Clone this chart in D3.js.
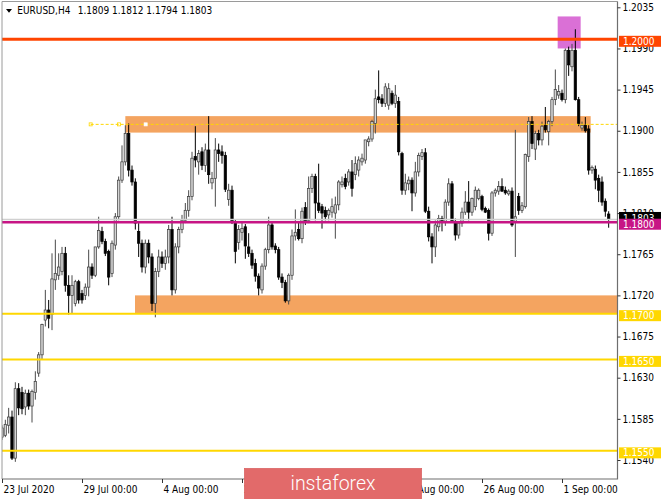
<!DOCTYPE html>
<html>
<head>
<meta charset="utf-8">
<script src="https://cdn.jsdelivr.net/npm/d3@7"></script>
<style>
  body { margin: 0; background: #fff; }
  svg text { font-family: "DejaVu Sans Condensed", "DejaVu Sans", sans-serif; font-stretch: condensed; font-size: 10px; fill: #000; }
</style>
</head>
<body>
<div id="chart"></div>
<script>
"use strict";

// Chart data
// ----------

var symbol = "EURUSD,H4";

var tradingDays = ["2020-07-23","2020-07-24","2020-07-27","2020-07-28","2020-07-29","2020-07-30","2020-07-31",
  "2020-08-03","2020-08-04","2020-08-05","2020-08-06","2020-08-07","2020-08-10","2020-08-11","2020-08-12",
  "2020-08-13","2020-08-14","2020-08-17","2020-08-18","2020-08-19","2020-08-20","2020-08-21","2020-08-24",
  "2020-08-25","2020-08-26","2020-08-27","2020-08-28","2020-08-31","2020-09-01","2020-09-02","2020-09-03"];
var barHours = [0, 4, 8, 12, 16, 20];

var barOpen = [
  1.1565,1.1567,1.1578,1.1587,1.1542,1.1618,1.1614,1.1598,1.1613,1.1599,
  1.1614,1.1635,1.1655,1.1693,1.1704,1.1699,1.1737,1.1742,1.1746,1.1766,
  1.1731,1.1720,1.1711,1.1735,1.1722,1.1720,1.1729,1.1751,1.1742,1.1773,
  1.1790,1.1779,1.1768,1.1744,1.1775,1.1806,1.1846,1.1866,1.1897,1.1857,
  1.1844,1.1790,1.1777,1.1751,1.1777,1.1762,1.1711,1.1746,1.1762,1.1755,
  1.1762,1.1792,1.1726,1.1773,1.1792,1.1802,1.1813,1.1828,1.1872,1.1866,
  1.1877,1.1862,1.1879,1.1843,1.1848,1.1879,1.1877,1.1873,1.1825,1.1835,
  1.1800,1.1778,1.1789,1.1795,1.1773,1.1766,1.1755,1.1741,1.1726,1.1752,
  1.1770,1.1797,1.1774,1.1770,1.1740,1.1734,1.1714,1.1742,1.1785,1.1792,
  1.1782,1.1816,1.1802,1.1837,1.1850,1.1821,1.1817,1.1813,1.1808,1.1811,
  1.1810,1.1819,1.1841,1.1848,1.1844,1.1855,1.1852,1.1857,1.1866,1.1868,
  1.1888,1.1891,1.1908,1.1937,1.1935,1.1930,1.1928,1.1941,1.1930,1.1932,
  1.1875,1.1835,1.1842,1.1846,1.1832,1.1855,1.1872,1.1876,1.1812,1.1784,
  1.1773,1.1795,1.1804,1.1800,1.1822,1.1842,1.1801,1.1786,1.1799,1.1811,
  1.1822,1.1811,1.1817,1.1826,1.1828,1.1815,1.1813,1.1788,1.1832,1.1834,
  1.1839,1.1835,1.1831,1.1834,1.1800,1.1828,1.1813,1.1817,1.1872,1.1910,
  1.1880,1.1897,1.1890,1.1906,1.1899,1.1910,1.1934,1.1939,1.1941,1.1934,
  1.1988,1.1970,1.1988,1.1934,1.1903,1.1906,1.1902,1.1857,1.1858,1.1848,
  1.1844,1.1823,1.1809];

var barHigh = [
  1.1578,1.1584,1.1597,1.1594,1.1625,1.1624,1.1620,1.1617,1.1617,1.1617,
  1.1637,1.1658,1.1689,1.1726,1.1715,1.1766,1.1781,1.1766,1.1773,1.1773,
  1.1742,1.1742,1.1737,1.1737,1.1726,1.1733,1.1770,1.1755,1.1773,1.1806,
  1.1795,1.1782,1.1770,1.1780,1.1810,1.1850,1.1884,1.1906,1.1908,1.1862,
  1.1848,1.1799,1.1781,1.1781,1.1781,1.1766,1.1750,1.1770,1.1768,1.1770,
  1.1797,1.1806,1.1777,1.1795,1.1808,1.1821,1.1835,1.1877,1.1905,1.1879,
  1.1882,1.1886,1.1916,1.1855,1.1892,1.1886,1.1884,1.1877,1.1842,1.1840,
  1.1803,1.1797,1.1800,1.1798,1.1788,1.1770,1.1760,1.1744,1.1755,1.1772,
  1.1806,1.1800,1.1777,1.1773,1.1744,1.1737,1.1744,1.1792,1.1814,1.1800,
  1.1816,1.1822,1.1850,1.1853,1.1853,1.1864,1.1820,1.1817,1.1815,1.1826,
  1.1828,1.1846,1.1850,1.1853,1.1858,1.1868,1.1872,1.1872,1.1875,1.1890,
  1.1894,1.1912,1.1945,1.1966,1.1940,1.1952,1.1952,1.1944,1.1950,1.1937,
  1.1877,1.1853,1.1850,1.1849,1.1866,1.1876,1.1880,1.1881,1.1817,1.1788,
  1.1802,1.1808,1.1807,1.1825,1.1848,1.1845,1.1804,1.1801,1.1816,1.1834,
  1.1845,1.1827,1.1839,1.1837,1.1830,1.1817,1.1815,1.1834,1.1837,1.1845,
  1.1848,1.1839,1.1836,1.1838,1.1901,1.1832,1.1822,1.1875,1.1915,1.1916,
  1.1900,1.1901,1.1910,1.1926,1.1912,1.1937,1.1967,1.1950,1.1945,1.1990,
  1.1992,1.1995,1.2011,1.1937,1.1910,1.1915,1.1906,1.1862,1.1862,1.1852,
  1.1850,1.1826,1.1812];

var barLow = [
  1.1562,1.1565,1.1569,1.1540,1.1538,1.1589,1.1590,1.1589,1.1595,1.1581,
  1.1606,1.1631,1.1650,1.1686,1.1684,1.1682,1.1726,1.1737,1.1742,1.1724,
  1.1699,1.1700,1.1708,1.1711,1.1711,1.1715,1.1719,1.1738,1.1740,1.1771,
  1.1776,1.1763,1.1731,1.1740,1.1770,1.1802,1.1843,1.1862,1.1850,1.1840,
  1.1792,1.1762,1.1745,1.1744,1.1755,1.1703,1.1696,1.1740,1.1750,1.1748,
  1.1755,1.1720,1.1722,1.1766,1.1788,1.1799,1.1806,1.1824,1.1860,1.1852,
  1.1857,1.1855,1.1842,1.1836,1.1817,1.1866,1.1864,1.1833,1.1818,1.1798,
  1.1755,1.1770,1.1780,1.1760,1.1762,1.1749,1.1735,1.1720,1.1722,1.1748,
  1.1766,1.1770,1.1766,1.1737,1.1728,1.1712,1.1710,1.1737,1.1780,1.1780,
  1.1777,1.1797,1.1799,1.1832,1.1802,1.1810,1.1793,1.1802,1.1802,1.1805,
  1.1782,1.1813,1.1838,1.1836,1.1840,1.1828,1.1846,1.1850,1.1862,1.1864,
  1.1883,1.1888,1.1897,1.1930,1.1926,1.1926,1.1923,1.1928,1.1925,1.1873,
  1.1830,1.1830,1.1835,1.1812,1.1828,1.1850,1.1868,1.1810,1.1779,1.1755,
  1.1762,1.1790,1.1790,1.1796,1.1818,1.1800,1.1780,1.1782,1.1795,1.1808,
  1.1802,1.1807,1.1813,1.1824,1.1812,1.1810,1.1780,1.1785,1.1828,1.1830,
  1.1833,1.1830,1.1829,1.1795,1.1762,1.1808,1.1810,1.1815,1.1866,1.1880,
  1.1868,1.1884,1.1884,1.1898,1.1884,1.1905,1.1928,1.1935,1.1932,1.1930,
  1.1960,1.1965,1.1933,1.1905,1.1900,1.1898,1.1852,1.1853,1.1836,1.1822,
  1.1818,1.1806,1.1794];

var barClose = [
  1.1575,1.1579,1.1587,1.1542,1.1618,1.1597,1.1596,1.1613,1.1599,1.1615,
  1.1626,1.1655,1.1688,1.1704,1.1695,1.1738,1.1744,1.1751,1.1766,1.1731,
  1.1720,1.1731,1.1735,1.1715,1.1715,1.1729,1.1751,1.1742,1.1773,1.1791,
  1.1779,1.1766,1.1740,1.1777,1.1806,1.1846,1.1866,1.1897,1.1857,1.1844,
  1.1799,1.1777,1.1751,1.1777,1.1762,1.1711,1.1746,1.1762,1.1755,1.1762,
  1.1792,1.1726,1.1773,1.1792,1.1802,1.1813,1.1828,1.1870,1.1868,1.1875,
  1.1862,1.1879,1.1852,1.1848,1.1879,1.1875,1.1873,1.1836,1.1835,1.1800,
  1.1768,1.1792,1.1793,1.1774,1.1766,1.1753,1.1741,1.1728,1.1752,1.1770,
  1.1797,1.1773,1.1770,1.1740,1.1734,1.1714,1.1742,1.1785,1.1789,1.1782,
  1.1812,1.1801,1.1837,1.1850,1.1821,1.1813,1.1810,1.1806,1.1813,1.1817,
  1.1819,1.1844,1.1844,1.1839,1.1855,1.1837,1.1864,1.1868,1.1870,1.1890,
  1.1891,1.1910,1.1935,1.1934,1.1930,1.1948,1.1946,1.1930,1.1939,1.1877,
  1.1835,1.1843,1.1846,1.1832,1.1855,1.1873,1.1876,1.1812,1.1784,1.1773,
  1.1797,1.1804,1.1800,1.1822,1.1842,1.1801,1.1786,1.1799,1.1811,1.1822,
  1.1811,1.1826,1.1835,1.1835,1.1814,1.1811,1.1788,1.1832,1.1835,1.1839,
  1.1834,1.1832,1.1834,1.1797,1.1806,1.1813,1.1818,1.1874,1.1910,1.1886,
  1.1897,1.1890,1.1905,1.1901,1.1910,1.1934,1.1945,1.1943,1.1934,1.1988,
  1.1972,1.1988,1.1934,1.1908,1.1906,1.1900,1.1857,1.1860,1.1846,1.1835,
  1.1822,1.1812,1.1803];

// price axis and time axis labels
var priceTicks = [1.2035, 1.1990, 1.1945, 1.1900, 1.1855, 1.1810, 1.1765, 1.1720, 1.1675, 1.1630, 1.1585, 1.1540];
var timeTickDays = ["2020-07-23","2020-07-29","2020-08-04","2020-08-10","2020-08-14","2020-08-20","2020-08-26","2020-09-01"];

// horizontal levels drawn on the chart
var levelPrices = [1.2000, 1.1800, 1.1700, 1.1650, 1.1550];
var levelColors = ["#ff4500", "#c71585", "#ffd700", "#ffd700", "#ffd700"];
var levelWidths = [3, 2.5, 2, 2, 2];

// rectangles: start bar, end bar, low price, high price
var zoneFrom  = [37, 39.9, 166.7];
var zoneTo    = [176.6, 190, 173.6];
var zoneLow   = [1.1898, 1.1700, 1.1990];
var zoneHigh  = [1.1916, 1.1720, 1.2025];
var zoneColor = ["#f4a460", "#f4a460", "#da70d6"];

// dashed trend line
var trendFrom = 26.6, trendPrice = 1.1907;
var trendHandles = [26.6, 35.1, 43.1];


function drawChart() {

  // Build bars
  // ----------

  var parseDay = d3.timeParse("%Y-%m-%d");
  var bars = barClose.map(function(c, i) {
    var day = parseDay(tradingDays[Math.floor(i / 6)]);
    var t = d3.timeHour.offset(day, barHours[i % 6]);
    return {i: i, t: t, o: barOpen[i], h: barHigh[i], l: barLow[i], c: c};
  });
  var last = bars[bars.length - 1];


  // Box sizing
  // ----------

  var W = 665, H = 499,
      pl = 2, pr = 617.5, pt = 1.5, pb = 479;

  var x = d3.scaleLinear().domain([0, 24]).range([2, 82]);         // bar index
  var y = d3.scaleLinear().domain([1.2035, 1.1540]).range([7.3, 460]);

  var svg = d3.select("#chart").append("svg")
      .attr("width", W)
      .attr("height", H);

  svg.append("rect").attr("width", W).attr("height", H).attr("fill", "#fff");

  svg.append("clipPath").attr("id", "plot")
    .append("rect")
      .attr("x", pl).attr("y", pt)
      .attr("width", pr - pl).attr("height", pb - pt);

  var plot = svg.append("g").attr("clip-path", "url(#plot)");


  // Rectangles (background objects)

  plot.selectAll(".zone")
    .data(zoneFrom)
    .enter().append("rect")
      .attr("class", "zone")
      .attr("x", function(d) { return x(d); })
      .attr("width", function(d, i) { return x(zoneTo[i]) - x(d); })
      .attr("y", function(d, i) { return y(zoneHigh[i]); })
      .attr("height", function(d, i) { return y(zoneLow[i]) - y(zoneHigh[i]); })
      .attr("fill", function(d, i) { return zoneColor[i]; });


  // Candles

  var bw = 2.4;
  var candle = plot.selectAll(".candle")
    .data(bars)
    .enter().append("g")
      .attr("class", "candle");

  candle.append("line")
      .attr("x1", function(d) { return x(d.i); })
      .attr("x2", function(d) { return x(d.i); })
      .attr("y1", function(d) { return y(d.h); })
      .attr("y2", function(d) { return y(d.l); })
      .attr("stroke", function(d) { return d.c >= d.o ? "#4a4a4a" : "#000"; })
      .attr("stroke-width", 1);

  candle.append("rect")
      .attr("x", function(d) { return x(d.i) - bw / 2; })
      .attr("width", bw)
      .attr("y", function(d) { return y(Math.max(d.o, d.c)); })
      .attr("height", function(d) { return Math.max(0.8, Math.abs(y(d.o) - y(d.c))); })
      .attr("fill", function(d) { return d.c >= d.o ? "#d4d4d4" : "#000"; })
      .attr("stroke", function(d) { return d.c >= d.o ? "#3a3a3a" : "#000"; })
      .attr("stroke-width", 0.7);


  // Bid line and horizontal levels

  plot.append("line")
      .attr("x1", pl).attr("x2", pr)
      .attr("y1", y(last.c)).attr("y2", y(last.c))
      .attr("stroke", "#d0d0d0")
      .attr("stroke-width", 1.5);

  plot.selectAll(".level")
    .data(levelPrices)
    .enter().append("line")
      .attr("class", "level")
      .attr("x1", pl).attr("x2", pr)
      .attr("y1", function(d) { return y(d); })
      .attr("y2", function(d) { return y(d); })
      .attr("stroke", function(d, i) { return levelColors[i]; })
      .attr("stroke-width", function(d, i) { return levelWidths[i]; });


  // Dashed trend line with its handles

  plot.append("line")
      .attr("x1", x(trendFrom)).attr("x2", pr)
      .attr("y1", y(trendPrice)).attr("y2", y(trendPrice))
      .attr("stroke", "#ffd700")
      .attr("stroke-dasharray", "3,2");

  plot.selectAll(".handle")
    .data(trendHandles)
    .enter().append("rect")
      .attr("class", "handle")
      .attr("x", function(d) { return x(d) - 1.5; })
      .attr("y", y(trendPrice) - 1.5)
      .attr("width", 3).attr("height", 3)
      .attr("fill", function(d, i) { return i == 2 ? "#fff" : "none"; })
      .attr("stroke", function(d, i) { return i == 2 ? "#fff" : "#ffd700"; })
      .attr("stroke-width", 0.8);


  // Frame and axes
  // --------------

  svg.append("path")
      .attr("d", "M" + pl + "," + pb + "V" + pt + "H" + pr)
      .attr("fill", "none")
      .attr("stroke", "#9a9a9a");

  svg.append("path")
      .attr("d", "M" + pl + "," + pb + "H" + pr + "V" + pt)
      .attr("fill", "none")
      .attr("stroke", "#6e6e6e")
      .attr("stroke-width", 1.2);

  var yAxis = d3.axisRight(y)
      .tickValues(priceTicks)
      .tickFormat(d3.format(".4f"))
      .tickSize(3)
      .tickPadding(2);

  var ya = svg.append("g")
      .attr("transform", "translate(" + pr + ",0)")
      .call(yAxis);
  ya.select(".domain").remove();
  ya.selectAll("line").attr("stroke", "#333");
  ya.selectAll("text").attr("font-family", null).attr("font-size", null);

  var tickIdx = timeTickDays.map(function(d) { return tradingDays.indexOf(d) * 6; });
  var fmtFirst = d3.timeFormat("%-d %b %Y"),
      fmtTime = d3.timeFormat("%-d %b %H:%M");

  var xAxis = d3.axisBottom(x)
      .tickValues(tickIdx)
      .tickSize(4)
      .tickPadding(3)
      .tickFormat(function(d, i) { return i == 0 ? fmtFirst(bars[d].t) : fmtTime(bars[d].t); });

  var xa = svg.append("g")
      .attr("transform", "translate(0," + pb + ")")
      .call(xAxis);
  xa.select(".domain").remove();
  xa.selectAll("line").attr("stroke", "#333");
  xa.selectAll("text")
      .attr("font-family", null).attr("font-size", null)
      .attr("text-anchor", "start")
      .attr("x", 1);


  // Price labels on the right axis

  var tags = svg.append("g");

  function priceTag(price, color, dy0, h) {
    tags.append("rect")
        .attr("x", pr + 1.5)
        .attr("y", y(price) + dy0)
        .attr("width", 42)
        .attr("height", h)
        .attr("fill", color);
    tags.append("text")
        .attr("x", pr + 5.5)
        .attr("y", y(price) + dy0 + h / 2)
        .attr("dy", "0.36em")
        .style("fill", "#fff")
        .text(d3.format(".4f")(price));
  }

  priceTag(last.c, "#000", -7.5, 13);
  levelPrices.forEach(function(p, i) { priceTag(p, levelColors[i], -3.5, 11); });


  // Header
  // ------

  svg.append("path")
      .attr("d", "M6,9H12L9,12.8Z")
      .attr("fill", "#000");

  svg.append("text")
      .attr("x", 17.3).attr("y", 14.3)
      .text(symbol);

  svg.append("text")
      .attr("x", 77.7).attr("y", 14.3)
      .text([last.o, last.h, last.l, last.c].map(d3.format(".4f")).join(" "));


  // Watermark logo
  // --------------

  svg.append("rect")
      .attr("x", 244.3).attr("y", 468.3)
      .attr("width", 177.4).attr("height", 31)
      .attr("fill", "#e26a6a")
      .attr("stroke", "#d65c5c")
      .attr("stroke-width", 0.6);

  svg.append("text")
      .attr("x", 290.5).attr("y", 489.5)
      .style("font-family", "Roboto, 'Open Sans', sans-serif")
      .style("font-weight", 300)
      .style("font-size", "19.5px")
      .style("font-stretch", "normal")
      .style("fill", "#fff")
      .text("instaforex");
}

drawChart();
</script>
</body>
</html>
